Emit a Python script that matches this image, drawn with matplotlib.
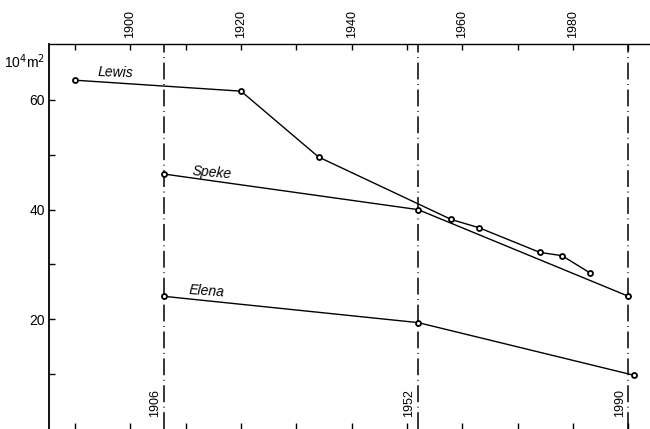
import matplotlib
matplotlib.use("Agg")
import matplotlib.pyplot as plt

plt.rcParams['font.family'] = ['Liberation Sans', 'DejaVu Sans']

# Data (year, area in 10^4 m^2)
lewis_years = [1890, 1920, 1934, 1958, 1963, 1974, 1978, 1983]
lewis_area = [63.6, 61.6, 49.6, 38.2, 36.7, 32.2, 31.6, 28.5]
speke_years = [1906, 1952, 1990]
speke_area = [46.5, 40.0, 24.2]
elena_years = [1906, 1952, 1991]
elena_area = [24.2, 19.4, 9.8]
survey_years = [1906, 1952, 1990]
top_ticks = [1900, 1920, 1940, 1960, 1980]
y_labels = [20, 40, 60]

fig = plt.figure(figsize=(6.5, 4.29), dpi=100)
ax = fig.add_axes([49/650, 0.0, 1 - 49/650, 1 - 44/429])

xmin, xmax = 1885.3, 1993.9
ymin, ymax = 0.0, 70.2
ax.set_xlim(xmin, xmax)
ax.set_ylim(ymin, ymax)

# survey lines
for yr in survey_years:
    ax.axvline(yr, color='black', lw=1.1, linestyle=(0, (11, 3, 0.6, 3)), zorder=1)
    ax.text(yr - 0.5, 4.7, str(yr), rotation=90, ha='right', va='center', fontsize=9)

mk = dict(marker='o', markersize=3.6, markerfacecolor='white', markeredgecolor='black',
          markeredgewidth=1.3, color='black', lw=1.0, zorder=3)
ax.plot(lewis_years, lewis_area, **mk)
ax.plot(speke_years, speke_area, **mk)
ax.plot(elena_years, elena_area, **mk)

ax.text(1894.0, 65.0, 'Lewis', style='italic', fontsize=10, ha='left', va='center', rotation=-2)
ax.text(1911.1, 46.7, 'Speke', style='italic', fontsize=10, ha='left', va='center', rotation=-5)
ax.text(1910.4, 25.1, 'Elena', style='italic', fontsize=10, ha='left', va='center', rotation=-4)

ax.text(-0.006, 66.9 / ymax, '10$^4$m$^2$', transform=ax.transAxes, ha='right', va='center', fontsize=10)

# ticks
xt = list(range(1890, 1991, 10))
ax.set_xticks(xt)
ax.set_xticklabels([str(t) if t in top_ticks else '' for t in xt], rotation=90)
ax.tick_params(axis='x', which='both', direction='in', top=True, bottom=True,
               labeltop=True, labelbottom=False, length=4.5, width=1.0, labelsize=9, pad=4)
yt = list(range(10, 70, 10))
ax.set_yticks(yt)
ax.set_yticklabels([str(t) if t in y_labels else '' for t in yt])
ax.tick_params(axis='y', direction='in', length=4, width=1.0, labelsize=10, pad=3)

ax.spines['right'].set_visible(False)
ax.spines['bottom'].set_visible(False)
ax.spines['left'].set_linewidth(1.3)
ax.spines['top'].set_linewidth(1.0)

fig.savefig('out.png', dpi=100)
